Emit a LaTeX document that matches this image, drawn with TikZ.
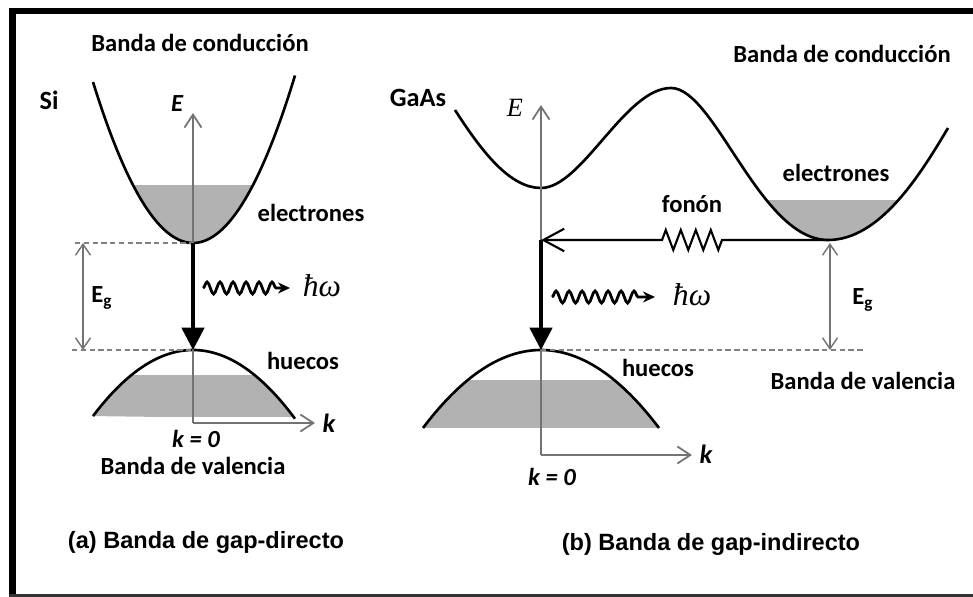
\documentclass[tikz,border=0pt]{standalone}
\usepackage{fontspec}
\setmainfont{Carlito}
\newfontfamily\capfont{Liberation Sans}
\newfontfamily\serfont{Liberation Serif}
\usetikzlibrary{arrows.meta,decorations.pathmorphing}

\begin{document}
\begin{tikzpicture}[x=0.02cm, y=-0.02cm,
  every node/.style={inner sep=0pt, anchor=base, font=\fontsize{14}{16}\selectfont\bfseries},
  band/.style={line width=1.5pt},
  bandfill/.style={fill=gray!60},
  axis/.style={draw=black!55, line width=1pt, -{Straight Barb[length=0.26cm,width=0.34cm]}},
  gap/.style={draw=black!55, line width=0.8pt, {Straight Barb[length=0.22cm,width=0.3cm]}-{Straight Barb[length=0.22cm,width=0.3cm]}},
  level/.style={draw=black!50, line width=0.8pt, dash pattern=on 3pt off 2pt},
  trans/.style={line width=2pt, -{Triangle[length=0.45cm,width=0.45cm]}},
  photon/.style={line width=1.6pt, -{Stealth[length=0.24cm,width=0.22cm]}, decorate,
    decoration={snake, amplitude=0.12cm, segment length=0.26cm, post length=0.22cm}},
  phonon/.style={line width=1.2pt, -{Straight Barb[length=0.42cm,width=0.45cm]}, decorate,
    decoration={zigzag, amplitude=0.2cm, segment length=0.3cm, pre length=2.12cm, post length=2.3cm}},
  capt/.style={font=\capfont\fontsize{13.4}{16}\selectfont\bfseries},
  hw/.style={font=\serfont\fontsize{18}{20}\selectfont\itshape}
]
  \useasboundingbox (0,0) rectangle (973,597);

  % Frame
  \fill[black] (9,8) rectangle (16,597);
  \fill[black] (9,8) rectangle (973,14);
  \fill[black!80] (9,594) rectangle (973,597);

  % ---------------- (a) Si ----------------
  \coordinate (oA) at (193,423);
  \coordinate (etipA) at (193,113);
  \coordinate (ktipA) at (315,423);
  \coordinate (cminA) at (193,243);
  \coordinate (vmaxA) at (193,350);

  % Bands
  \begin{scope}
    \clip[domain=93:295] plot (\x,{243-0.0161*(\x-193)^2}) -- cycle;
    \fill[bandfill] (90,185) rectangle (300,244);
  \end{scope}
  \begin{scope}
    \clip[domain=93:295] plot (\x,{350+0.0066*(\x-193)^2}) -- cycle;
    \fill[bandfill] (90,375) rectangle (300,417);
  \end{scope}
  \draw[band, domain=93:295, smooth, samples=60] plot (\x,{243-0.0161*(\x-193)^2});
  \draw[band, domain=93:295, smooth, samples=60] plot (\x,{350+0.0066*(\x-193)^2});

  % Axes
  \draw[axis] (oA) -- (etipA);
  \draw[axis] (oA) -- (ktipA);

  % Gap
  \coordinate (dcA) at (75,243);
  \coordinate (dvA) at (72,350);
  \coordinate (gtA) at (83,243);
  \coordinate (gbA) at (83,350);
  \draw[level] (dcA) -- (cminA);
  \draw[level] (dvA) -- (vmaxA);
  \draw[gap] (gtA) -- (gbA);
  \draw[trans] (cminA) -- (vmaxA);

  % Photon
  \coordinate (phsA) at (203,288);
  \coordinate (pheA) at (290,288);
  \draw[photon] (phsA) -- (pheA);

  % Labels
  \node (condA) at (200,52) {Banda de conducción};
  \node[font=\fontsize{15}{17}\selectfont\bfseries] (si) at (49,110) {Si};
  \node[font=\fontsize{14}{16}\selectfont\bfseries\itshape] (eA) at (177,112) {E};
  \node (elA) at (311,222) {electrones};
  \node (egA) at (102,303) {E\textsubscript{g}};
  \node[hw] (hwA) at (322,297) {ħω};
  \node (huA) at (303,370) {huecos};
  \node[font=\fontsize{15}{17}\selectfont\bfseries\itshape] (kA) at (329,433) {k};
  \node[font=\fontsize{14}{16}\selectfont\bfseries\itshape] (k0A) at (196,447) {k = 0};
  \node (valA) at (193,475) {Banda de valencia};
  \node[capt] (capA) at (206,548) {(a) Banda de gap-directo};

  % ---------------- (b) GaAs ----------------
  \coordinate (oB) at (541,455);
  \coordinate (etipB) at (541,105);
  \coordinate (ktipB) at (692,455);
  \coordinate (cminB) at (828,240);
  \coordinate (eB0) at (541,240);
  \coordinate (vmaxB) at (541,350);

  % Bands
  \begin{scope}
    \clip (671,88) .. controls (715,88) and (760,240) .. (828,240)
      .. controls (880,240) and (920,175) .. (948,128) -- cycle;
    \fill[bandfill] (740,200) rectangle (940,242);
  \end{scope}
  \begin{scope}
    \clip[domain=423:659] plot (\x,{350+0.0056*(\x-541)^2}) -- cycle;
    \fill[bandfill] (420,380) rectangle (662,431);
  \end{scope}
  \draw[band] (455,110) .. controls (482,152) and (510,188) .. (541,188)
    .. controls (582,188) and (625,88) .. (671,88)
    .. controls (715,88) and (760,240) .. (828,240)
    .. controls (880,240) and (920,175) .. (948,128);
  \draw[band, domain=423:659, smooth, samples=60] plot (\x,{350+0.0056*(\x-541)^2});

  % Axes
  \draw[axis] (oB) -- (etipB);
  \draw[axis] (oB) -- (ktipB);

  % Gap
  \coordinate (dvB) at (865,350);
  \coordinate (gtB) at (830,243);
  \coordinate (gbB) at (830,350);
  \draw[level] (vmaxB) -- (dvB);
  \draw[gap] (gtB) -- (gbB);
  \draw[phonon] (cminB) -- (eB0);
  \draw[trans] (eB0) -- (vmaxB);

  % Photon
  \coordinate (phsB) at (552,297);
  \coordinate (pheB) at (655,297);
  \draw[photon] (phsB) -- (pheB);

  % Labels
  \node (condB) at (842,63) {Banda de conducción};
  \node[font=\fontsize{15}{17}\selectfont\bfseries] (gaas) at (418,107) {GaAs};
  \node[font=\serfont\fontsize{15}{17}\selectfont\itshape] (eB) at (515,117) {E};
  \node (elB) at (836,182) {electrones};
  \node (fonon) at (692,213) {fonón};
  \node[hw] (hwB) at (692,306) {ħω};
  \node (egB) at (863,305) {E\textsubscript{g}};
  \node (huB) at (658,377) {huecos};
  \node (valB) at (863,390) {Banda de valencia};
  \node[font=\fontsize{15}{17}\selectfont\bfseries\itshape] (kB) at (706,463) {k};
  \node[font=\fontsize{14}{16}\selectfont\bfseries\itshape] (k0B) at (552,485) {k = 0};
  \node[capt] (capB) at (711,550) {(b) Banda de gap-indirecto};
\end{tikzpicture}
\end{document}
